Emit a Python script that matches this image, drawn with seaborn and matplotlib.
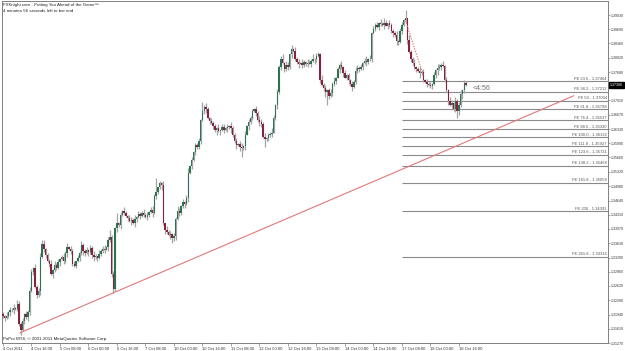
import numpy as np
import matplotlib
matplotlib.use("Agg")
import matplotlib.pyplot as plt
import matplotlib.transforms as mtransforms
import seaborn as sns

# ---------------- data ----------------
BASE = 1.3100  # closes are given in pips above this base
close_pips = [
    90, 86, 92, 100, 106, 104, 110, 108, 120, 72,
    58, 80, 95, 88, 100, 150, 195, 205, 160, 140,
    150, 230, 262, 250, 235, 222, 215, 190, 200, 212,
    205, 218, 225, 230, 220, 240, 255, 250, 245, 215,
    210, 220, 228, 240, 258, 245, 240, 247, 242, 252,
    235, 230, 232, 228, 238, 245, 250, 248, 254, 270,
    278, 190, 155, 300, 310, 305, 330, 340, 335, 328,
    322, 315, 318, 312, 320, 326, 332, 328, 335, 330,
    325, 330, 338, 342, 335, 375, 385, 395, 405, 400,
    310, 295, 290, 282, 285, 275, 280, 320, 340, 335,
    350, 360, 355, 370, 430, 445, 460, 480, 495, 490,
    505, 555, 575, 585, 580, 560, 552, 548, 540, 530,
    535, 528, 532, 538, 530, 535, 538, 540, 535, 520,
    505, 495, 498, 490, 488, 492, 520, 540, 550, 560,
    575, 580, 572, 555, 550, 545, 515, 510, 512, 518,
    522, 525, 560, 590, 620, 680, 700, 690, 675, 685,
    680, 710, 722, 718, 700, 692, 688, 690, 685, 692,
    686, 690, 688, 695, 700, 698, 705, 710, 650, 638,
    630, 620, 625, 612, 618, 640, 648, 655, 675, 685,
    680, 665, 655, 660, 650, 640, 632, 645, 670, 678,
    675, 680, 690, 695, 692, 698, 700, 760, 770, 780,
    775, 785, 782, 780, 785, 778, 783, 780, 765, 760,
    755, 742, 738, 765, 780, 790, 795, 745, 715, 700,
    690, 680, 675, 670, 665, 668, 650, 645, 640, 638,
    635, 640, 660, 672, 678, 680, 685, 682, 650, 625,
    600, 590, 595, 580, 600, 575, 590, 615, 625, 642,
    638,
]
# upper / lower wick lengths, one digit per bar (digit * 2 pips)
up_wick = ("3241325143 2314253142 3524132415 2413524132 3142532413 "
           "2531423514 3241523142 1432514325 2413524132 5142314253 "
           "2413524132 3142531423 2514324153 2413524132 3142532413 "
           "2531423514 3241523142 1432514325 2413524132 5142314253 "
           "2413524132 3142531423 2514324153 2413524132 3142532413 "
           "2531423514 3")
dn_wick = ("2413524132 3142531423 2514324153 3241325143 2314253142 "
           "3524132415 2413524132 3142532413 1432514325 2531423514 "
           "3241523142 2413524132 5142314253 2514324153 3142531423 "
           "2413524132 3241325143 2314253142 3524132415 2413524132 "
           "3142532413 1432514325 2531423514 3241523142 2413524132 "
           "5142314253 2")
# notable extremes (bar index -> pips)
high_override = {22: 271, 60: 294, 64: 335, 86: 417, 112: 597, 162: 732, 226: 815}
low_override = {10: 46, 62: 145, 95: 264, 134: 467, 147: 491, 182: 590, 255: 559}

x_tick_bars = [0, 16, 32, 48, 64, 80, 96, 112, 128, 144, 160, 176, 192, 208, 224, 240, 256]
x_tick_labels = ["4 Oct 2011", "4 Oct 16:00", "5 Oct 08:00", "6 Oct 00:00", "6 Oct 16:00",
                 "7 Oct 08:00", "10 Oct 00:00", "10 Oct 16:00", "11 Oct 08:00", "12 Oct 00:00",
                 "12 Oct 16:00", "13 Oct 08:00", "14 Oct 00:00", "14 Oct 16:00", "17 Oct 08:00",
                 "18 Oct 00:00", "18 Oct 16:00"]
y_tick_labels = ["1.31270", "1.31610", "1.31940", "1.32280", "1.32620", "1.32960", "1.33290",
                 "1.33630", "1.33970", "1.34310", "1.34640", "1.34980", "1.35320", "1.35660",
                 "1.35990", "1.36330", "1.36670", "1.37010", "1.37340", "1.37680", "1.38020",
                 "1.38360", "1.38690", "1.39030"]

fe_names = ["FE 23.6", "FE 38.2", "FE 50", "FE 61.8", "FE 76.4", "FE 88.6", "FE 100.0",
            "FE 111.8", "FE 123.6", "FE 138.2", "FE 161.8", "FE 200", "FE 261.8"]
fe_values = [1.37464, 1.37212, 1.37004, 1.36798, 1.36537, 1.36330, 1.36132,
             1.35927, 1.35721, 1.35468, 1.35058, 1.34391, 1.33316]

trend_x = [9.5, 320.5]
trend_y = [1.3151, 1.3712]
fib_link_x = [226, 236]
fib_link_y = [1.3890, 1.3760]
last_price = "1.37380"
timer_text = "<4:56"

# ---------------- derived OHLC ----------------
up = [int(c) for c in up_wick.replace(" ", "")]
dn = [int(c) for c in dn_wick.replace(" ", "")]
n = len(close_pips)
closes = np.array(close_pips, dtype=float)
opens = np.concatenate([[95.0], closes[:-1]])
highs = np.maximum(opens, closes) + 2 * np.array(up[:n])
lows = np.minimum(opens, closes) - 2 * np.array(dn[:n])
for k, v in high_override.items():
    highs[k] = v
for k, v in low_override.items():
    lows[k] = v
to_price = lambda p: BASE + np.asarray(p) / 10000.0
O, H, L, C = to_price(opens), to_price(highs), to_price(lows), to_price(closes)
xs = np.arange(n)

# ---------------- drawing ----------------
sns.set_style("white")
plt.rcParams["font.family"] = ["Liberation Sans", "DejaVu Sans"]

W, Hh = 625, 351
fig = plt.figure(figsize=(W / 100, Hh / 100), dpi=100)
fig.patch.set_facecolor("white")
ax = fig.add_axes([2 / W, (Hh - 343) / Hh, (608 - 2) / W, (343 - 1) / Hh])

px_per_bar = 1.781
ax.set_xlim(-0.56, -0.56 + (608 - 2) / px_per_bar)
ax.set_ylim(1.31270, 1.39030 + 14 * 0.0002366)

wick_col = "#a4a4a4"
bull_col = "#2c7450"
bear_col = "#882040"

ax.vlines(xs, L, H, color=wick_col, lw=0.9, zorder=2)
body_bottom = np.minimum(O, C)
body_h = np.maximum(np.abs(C - O), 0.00005)
colors = [bull_col if c >= o else bear_col for o, c in zip(O, C)]
ax.bar(xs, body_h, bottom=body_bottom, width=0.8, color=colors, linewidth=0, zorder=3)

# trend line & fib link
sns.lineplot(x=trend_x, y=trend_y, ax=ax, color="#e07878", lw=0.8, zorder=4)
sns.lineplot(x=fib_link_x, y=fib_link_y, ax=ax, color="#e07878", lw=0.8,
             linestyle=(0, (1.2, 1.2)), zorder=4)

# Fibonacci expansion levels
x_right = ax.get_xlim()[1]
ax.hlines(fe_values, 224, x_right, color="#8a8a8a", lw=0.8, zorder=1)
blend = mtransforms.blended_transform_factory(ax.transAxes, ax.transData)
for name, val in zip(fe_names, fe_values):
    ax.text(0.998, val + 0.00012, f"{name} - {val:.5f}", transform=blend,
            ha="right", va="bottom", fontsize=3.0, color="#555555", zorder=5)

ax.text(263.5, 1.3730, timer_text, ha="left", va="center", fontsize=5, color="#707070")

# axes styling
for sp in ax.spines.values():
    sp.set_color("#808080")
    sp.set_linewidth(0.7)
ax.yaxis.tick_right()
last_val = float(to_price(close_pips[-1]))
ytick_vals = [float(s) for s in y_tick_labels]
ax.set_yticks(ytick_vals)
# the tick label hidden behind the last-price box is left blank, as in the terminal
ax.set_yticklabels([s if abs(v - last_val) > 0.0015 else "" for s, v in zip(y_tick_labels, ytick_vals)])
ax.set_xticks(x_tick_bars)
ax.set_xticklabels(x_tick_labels, ha="left")
ax.tick_params(axis="y", right=True, length=1.5, width=0.5, color="#808080",
               labelsize=2.6, pad=0.6, labelcolor="#333333")
ax.tick_params(axis="x", bottom=True, length=2, width=0.5, color="#808080",
               labelsize=3.0, pad=0.8, labelcolor="#333333")
ax.grid(False)

# last price box
ax.text(1.0035, last_val, last_price, transform=blend, ha="left", va="center",
        fontsize=2.6, color="white",
        bbox=dict(boxstyle="square,pad=0.3", fc="black", ec="black"), clip_on=False, zorder=6)

# header / footer text
fig.text(3 / W, 1 - 5 / Hh, "FXKnight.com - Putting You Ahead of the Game\u2122",
         ha="left", va="center", fontsize=3.2, color="#222222")
fig.text(3 / W, 1 - 11 / Hh, "4 minutes 56 seconds left to bar end",
         ha="left", va="center", fontsize=3.2, color="#222222")
fig.text(3 / W, 1 - 339 / Hh, "PoPro MT4, \u00a9 2001-2011 MetaQuotes Software Corp.",
         ha="left", va="center", fontsize=3.2, color="#222222")

fig.savefig("out.png", dpi=100, facecolor="white")
